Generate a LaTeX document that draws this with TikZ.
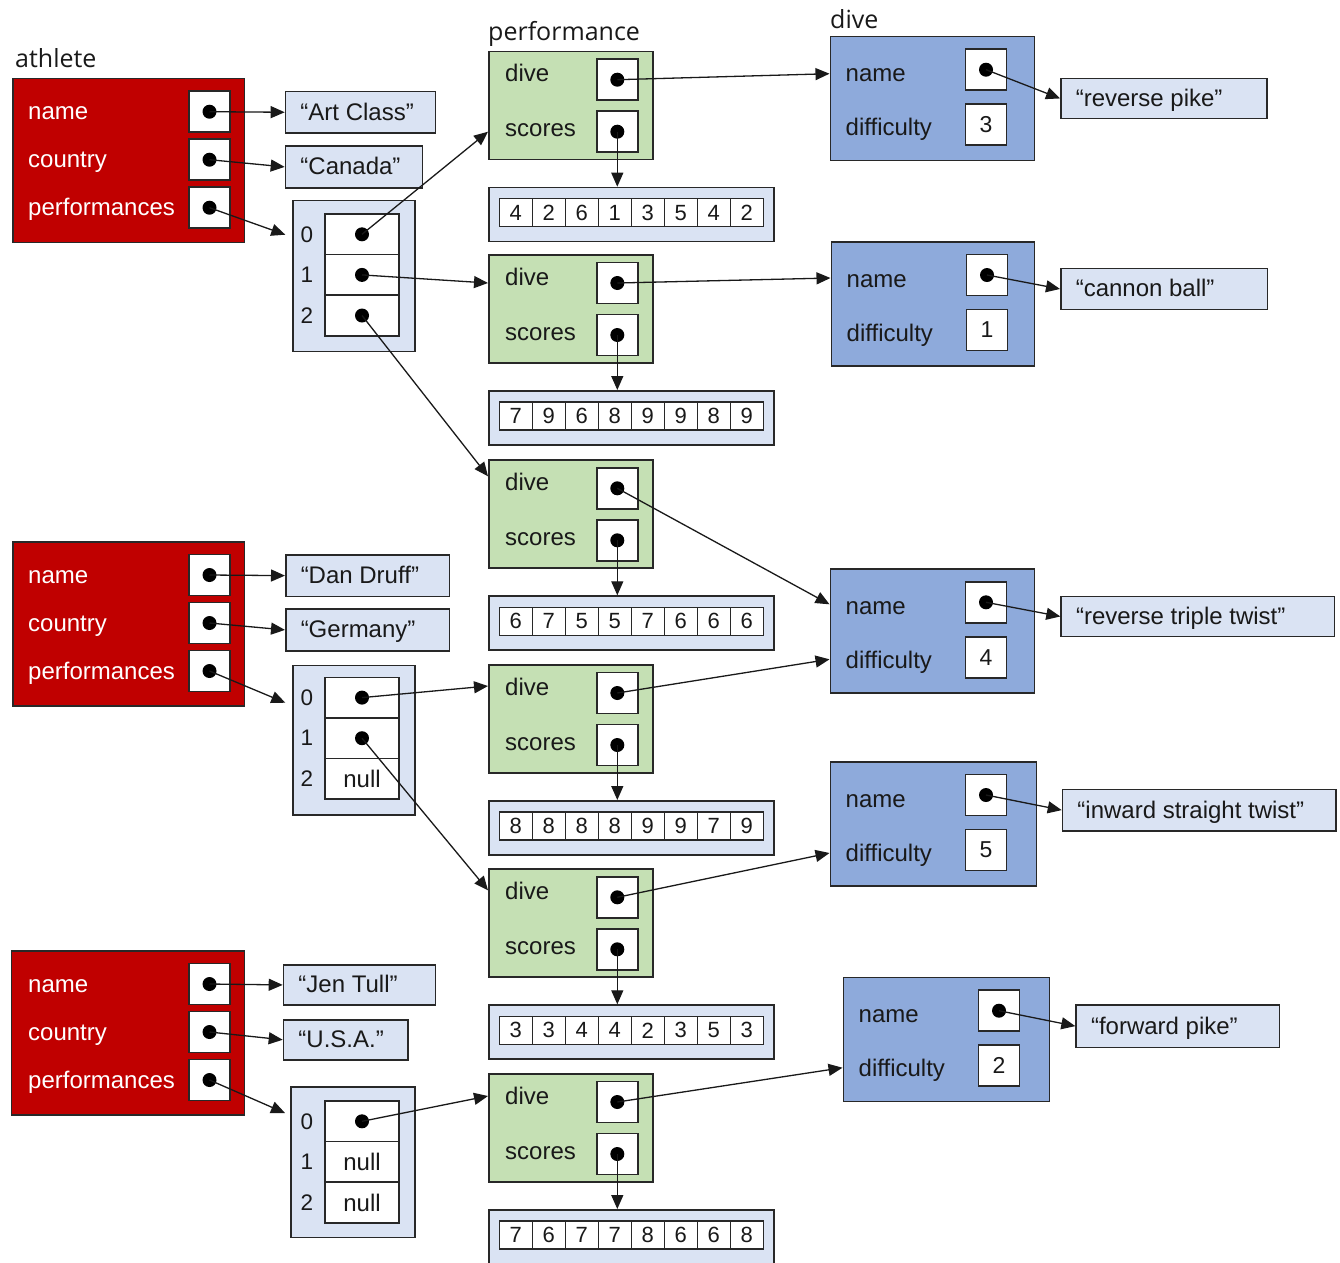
\documentclass[tikz,border=0pt]{standalone}
\usepackage{fontspec}
\setmainfont{Liberation Sans}
\newfontfamily\titlefont{Open Sans}
\usetikzlibrary{arrows.meta,calc}
\definecolor{athred}{RGB}{192,0,0}
\definecolor{perfgreen}{RGB}{197,224,180}
\definecolor{diveblue}{RGB}{142,170,219}
\definecolor{lightb}{RGB}{218,227,243}
\definecolor{edge}{RGB}{40,40,40}
\definecolor{ink}{RGB}{25,25,25}

\newcommand{\AthRec}[4]{% id, left, width, top
  \node[redbox, minimum width=#3pt, minimum height=164pt] (#1) at (#2,#4) {};
  \node[field] (#1n) at (209.5,#4+34) {};
  \node[field] (#1c) at (209.5,#4+82) {};
  \node[field] (#1p) at (209.5,#4+130) {};
  \node[dot] (#1nd) at (#1n.center) {};
  \node[dot] (#1cd) at (#1c.center) {};
  \node[dot] (#1pd) at (#1p.center) {};
  \node[wlbl] (#1nl) at (28,#4+42) {name};
  \node[wlbl] (#1cl) at (28,#4+90) {country};
  \node[wlbl] (#1pl) at (28,#4+138) {performances};
}
\newcommand{\StrBox}[6]{% id, x, y, w, h, text
  \node[strbox, minimum width=#4pt, minimum height=#5pt] (#1) at (#2,#3)
    {\makebox[\dimexpr #4pt-30pt\relax][l]{#6}};
}
\newcommand{\ArrBox}[6]{% id, x, y, w, h, celltop
  \node[arrbox, minimum width=#4pt, minimum height=#5pt] (#1) at (#2,#3) {};
  \foreach \k in {0,1,2} {
    \node[cell] (#1c\k) at (362,#6+20.3+40.6*\k) {};
    \node[idx] (#1i\k) at (307,#6+20.3+40.6*\k) {\k};
  }
}
\newcommand{\PerfRec}[3]{% id, top, scores
  \node[greenbox] (#1) at (488,#2) {};
  \node[field] (#1d) at (617.3,#2+29) {};
  \node[field] (#1s) at (617.3,#2+81) {};
  \node[dot] (#1dd) at (#1d.center) {};
  \node[dot] (#1sd) at (#1s.center) {};
  \node[lbl] (#1dl) at (505,#2+31) {dive};
  \node[lbl] (#1sl) at (505,#2+86) {scores};
  \node[arrbox, minimum width=285pt, minimum height=54pt] (#1a) at (488,#2+136) {};
  \foreach \v [count=\i from 0] in {#3} {
    \node[scell] (#1a\i) at (515.8+33*\i,#2+162) {\v};
  }
  \draw[ptr] (#1sd.center) -- (#1s.center |- #1a.north);
}
\newcommand{\DiveRec}[5]{% id, left, top, width, difficulty
  \node[bluebox, minimum width=#4pt] (#1) at (#2,#3) {};
  \node[field] (#1n) at (#2+156.5,#3+34) {};
  \node[field, font=\fontsize{23}{26}\selectfont] (#1f) at (#2+156.5,#3+89) {#5};
  \node[dot] (#1nd) at (#1n.center) {};
  \node[lbl] (#1nl) at (#2+16,#3+46) {name};
  \node[lbl] (#1fl) at (#2+16,#3+100) {difficulty};
}

\begin{document}
\begin{tikzpicture}[x=1pt,y=-1pt,
  every node/.style={font=\fontsize{24}{27}\selectfont, text=ink},
  box/.style={draw=edge, line width=1.5pt, inner sep=0pt, anchor=north west},
  redbox/.style={box, fill=athred},
  greenbox/.style={box, fill=perfgreen, minimum width=164pt, minimum height=108pt},
  bluebox/.style={box, fill=diveblue, minimum height=124pt},
  arrbox/.style={box, fill=lightb},
  strbox/.style={box, fill=lightb, inner xsep=15pt, inner ysep=0pt, text height=17pt, text depth=1pt},
  field/.style={draw=edge, line width=1.5pt, fill=white, minimum size=41pt, inner sep=0pt},
  cell/.style={draw=edge, line width=1.5pt, fill=white, minimum width=74pt, minimum height=40.6pt, inner sep=0pt},
  scell/.style={draw=edge, line width=1.3pt, fill=white, minimum width=33pt, minimum height=28pt, inner sep=0pt, font=\fontsize{22}{24}\selectfont},
  dot/.style={circle, fill=black, inner sep=0pt, minimum size=14pt},
  lbl/.style={anchor=base west, inner sep=0pt},
  wlbl/.style={lbl, text=white},
  idx/.style={inner sep=0pt, font=\fontsize{22.5}{25}\selectfont},
  nulltxt/.style={inner sep=0pt},
  titletxt/.style={anchor=base west, inner sep=0pt, font=\titlefont\fontsize{25}{28}\selectfont},
  ptr/.style={draw=ink, line width=1.3pt, -{Triangle[length=14pt,width=12pt]}},
]
\useasboundingbox (0,0) rectangle (1340,1262);

% titles
\node[titletxt] (tathlete) at (15,67) {athlete};
\node[titletxt] (tperf) at (488,40) {performance};
\node[titletxt] (tdive) at (830,28) {dive};

% athletes
\AthRec{a1}{12.3}{231.5}{77.7}
\AthRec{a2}{12.3}{231.5}{541}
\AthRec{a3}{10.7}{233}{950}

% athlete strings
\StrBox{s1n}{284.7}{90.7}{150}{41.6}{“Art Class”}
\StrBox{s1c}{284.7}{145.3}{137}{41.7}{“Canada”}
\StrBox{s2n}{285}{554}{163.7}{41.7}{“Dan Druff”}
\StrBox{s2c}{285}{608.3}{163.7}{41.7}{“Germany”}
\StrBox{s3n}{282.7}{964}{152}{40.3}{“Jen Tull”}
\StrBox{s3c}{282.7}{1019}{124.6}{40}{“U.S.A.”}

% arrays
\ArrBox{r1}{292.3}{199.7}{122}{151}{214}
\ArrBox{r2}{292.3}{664.7}{122}{149.3}{677.3}
\ArrBox{r3}{290}{1086}{124.3}{150.7}{1101}
\node[dot] (r1d0) at (r1c0.center) {};
\node[dot] (r1d1) at (r1c1.center) {};
\node[dot] (r1d2) at (r1c2.center) {};
\node[dot] (r2d0) at (r2c0.center) {};
\node[dot] (r2d1) at (r2c1.center) {};
\node[nulltxt] (r2n2) at (r2c2.center) {null};
\node[dot] (r3d0) at (r3c0.center) {};
\node[nulltxt] (r3n1) at (r3c1.center) {null};
\node[nulltxt] (r3n2) at (r3c2.center) {null};

% performances
\PerfRec{p1}{50.7}{4,2,6,1,3,5,4,2}
\PerfRec{p2}{254}{7,9,6,8,9,9,8,9}
\PerfRec{p3}{459.3}{6,7,5,5,7,6,6,6}
\PerfRec{p4}{664}{8,8,8,8,9,9,7,9}
\PerfRec{p5}{868.3}{3,3,4,4,2,3,5,3}
\PerfRec{p6}{1073}{7,6,7,7,8,6,6,8}

% dives
\DiveRec{d1}{829.5}{35.7}{204}{3}
\DiveRec{d2}{830.5}{241}{203}{1}
\DiveRec{d3}{829.5}{568.3}{204}{4}
\DiveRec{d4}{829.5}{761}{206}{5}
\DiveRec{d5}{842.5}{976.7}{206}{2}

% dive strings
\StrBox{t1}{1060}{77.7}{206}{40}{“reverse pike”}
\StrBox{t2}{1060}{267.7}{206.7}{41}{“cannon ball”}
\StrBox{t3}{1060.3}{595.7}{273.4}{40}{“reverse triple twist”}
\StrBox{t4}{1061.7}{788.7}{273.6}{41.3}{“inward straight twist”}
\StrBox{t5}{1075.3}{1004}{203.4}{42.7}{“forward pike”}

% athlete pointers
\foreach \a in {1,2,3} {
  \draw[ptr] (a\a nd.center) -- (s\a n.west);
  \draw[ptr] (a\a cd.center) -- (s\a c.west);
}
\draw[ptr] (a1pd.center) -- ($(r1.north west)+(-7,35)$);
\draw[ptr] (a2pd.center) -- ($(r2.north west)+(-7,38)$);
\draw[ptr] (a3pd.center) -- ($(r3.north west)+(-5,27)$);

% array pointers
\draw[ptr] (r1d0.center) -- (p1s -| p1.west);
\draw[ptr] (r1d1.center) -- (p2d -| p2.west);
\draw[ptr] (r1d2.center) -- ($(p3.north west)+(0,17)$);
\draw[ptr] (r2d0.center) -- ($(p4.north west)+(0,22)$);
\draw[ptr] (r2d1.center) -- ($(p5.north west)+(0,22)$);
\draw[ptr] (r3d0.center) -- ($(p6.north west)+(0,23)$);

% performance -> dive
\draw[ptr] (p1dd.center) -- ($(d1.north west)+(0,38)$);
\draw[ptr] (p2dd.center) -- ($(d2.north west)+(0,37)$);
\draw[ptr] (p3dd.center) -- ($(d3.north west)+(0,36)$);
\draw[ptr] (p4dd.center) -- ($(d3.north west)+(0,91)$);
\draw[ptr] (p5dd.center) -- ($(d4.north west)+(0,92)$);
\draw[ptr] (p6dd.center) -- ($(d5.north west)+(0,91)$);

% dive name -> string
\foreach \d in {1,...,5} {
  \draw[ptr] (d\d nd.center) -- (t\d.west);
}
\end{tikzpicture}
\end{document}
